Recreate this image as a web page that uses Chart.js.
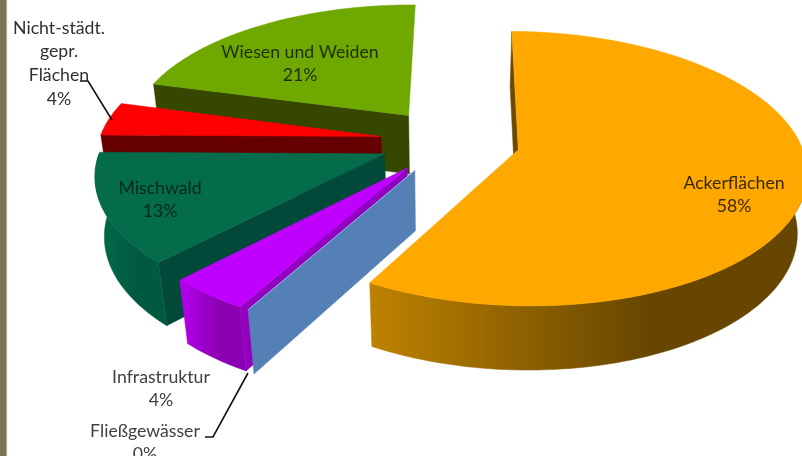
<!DOCTYPE html>
<html>
<head>
<meta charset="utf-8">
<style>
  html, body { margin: 0; padding: 0; }
  body { width: 802px; height: 456px; overflow: hidden; background: linear-gradient(to right, #7a7250 6px, #e8e6dc 7px, #fff 8px); }
  canvas { display: block; }
</style>
<script src="https://cdn.jsdelivr.net/npm/chart.js@4"></script>
</head>
<body>
<canvas id="chart" width="802" height="456"></canvas>
<script>
const categories = ["Ackerflächen", "Fließgewässer", "Infrastruktur", "Mischwald", ["Nicht-städt.", "gepr.", "Flächen"], "Wiesen und Weiden"];
const shares = [58, 0, 4, 13, 4, 21];
const faceColors = ["#ffa800", "#5580b5", "#c000ff", "#046b4b", "#ff0000", "#6fa800"];
const sideColors = ["#6b4a00", "#5580b5", "#9400c0", "#02493a", "#660000", "#364800"];
const rimColors = [["#be8200", "#664600"], ["#5580b5", "#5580b5"], ["#b400ee", "#8c00b4"], ["#046b4b", "#005a40"], ["#660000", "#660000"], ["#364800", "#364800"]];

// camera for the tilted pie: plane squash, foreshortening and extrusion
const tilt = 0.469, foreshorten = 0.000486, sink = 0.027, drop = 61, vanishX = 440;
// back to front
const paintOrder = [5, 4, 3, 2, 1, 0];

function project(el, angle, radius, z) {
  const mid = (el.startAngle + el.endAngle) / 2;
  const e = el.options.offset;
  const u = Math.cos(mid) * e + Math.cos(angle) * radius;
  const v = Math.sin(mid) * e + Math.sin(angle) * radius;
  const q = 1 - foreshorten * v + sink * z;
  return {
    x: vanishX + (u + el.x - vanishX) / q,
    y: el.y + (tilt * v + drop * z) / q,
  };
}

function arcAngles(el) {
  const list = [];
  const steps = Math.max(1, Math.ceil((el.endAngle - el.startAngle) * 60));
  for (let i = 0; i <= steps; i++) {
    list.push(el.startAngle + (el.endAngle - el.startAngle) * (i / steps));
  }
  return list;
}

function fillPoly(ctx, pts, fill) {
  ctx.beginPath();
  pts.forEach((p, i) => (i ? ctx.lineTo(p.x, p.y) : ctx.moveTo(p.x, p.y)));
  ctx.closePath();
  ctx.fillStyle = fill;
  ctx.fill();
  ctx.strokeStyle = fill;
  ctx.lineWidth = 0.5;
  ctx.stroke();
}

function drawSlice(ctx, el, i) {
  // only the leading wall ever faces the camera
  const a = el.startAngle, r = el.outerRadius;
  fillPoly(ctx, [project(el, a, 0, 0), project(el, a, r, 0), project(el, a, r, 1), project(el, a, 0, 1)], sideColors[i]);
  if (el.endAngle === a) {
    // a 0 % slice is only its wall, with a lit top edge
    const from = project(el, a, 0, 0), to = project(el, a, r, 0);
    ctx.beginPath();
    ctx.moveTo(from.x, from.y);
    ctx.lineTo(to.x, to.y);
    ctx.strokeStyle = "#8fb8ee";
    ctx.lineWidth = 1;
    ctx.stroke();
    return;
  }
  const angles = arcAngles(el);
  const front = angles.filter((t) => Math.sin(t) >= 0);
  if (front.length > 1) {
    // outer wall, front half of the rim only
    const top = front.map((t) => project(el, t, r, 0));
    const bottom = front.map((t) => project(el, t, r, 1)).reverse();
    const xs = top.map((p) => p.x);
    const minX = Math.min(...xs);
    const grad = ctx.createLinearGradient(minX, 0, minX + (Math.max(...xs) - minX) * 0.64, 0);
    grad.addColorStop(0, rimColors[i][0]);
    grad.addColorStop(1, rimColors[i][1]);
    fillPoly(ctx, top.concat(bottom), grad);
  }
  fillPoly(ctx, [project(el, a, 0, 0)].concat(angles.map((t) => project(el, t, r, 0))), faceColors[i]);
}

const pie3d = {
  id: "pie3d",
  // the arcs are painted here in perspective instead of flat
  beforeDatasetsDraw(chart, args, opts) {
    const ctx = chart.ctx;
    const arcs = chart.getDatasetMeta(0).data;
    ctx.save();
    paintOrder.forEach((i) => drawSlice(ctx, arcs[i], i));
    ctx.restore();
    return false;
  },
  afterDraw(chart, args, opts) {
    const ctx = chart.ctx;
    ctx.save();
    ctx.strokeStyle = "#111";
    ctx.lineWidth = 1.6;
    opts.leaders.forEach((line) => {
      ctx.beginPath();
      line.forEach((p, i) => (i ? ctx.lineTo(p[0], p[1]) : ctx.moveTo(p[0], p[1])));
      ctx.stroke();
    });
    ctx.font = opts.font;
    ctx.textAlign = "center";
    ctx.textBaseline = "middle";
    categories.forEach((name, i) => {
      const lines = [].concat(name, shares[i] + "%");
      const at = opts.labelAt[i];
      ctx.fillStyle = at.color;
      lines.forEach((text, n) => ctx.fillText(text, at.x, at.y + n * opts.lineHeight));
    });
    ctx.restore();
  },
};

new Chart(document.getElementById("chart"), {
  type: "pie",
  plugins: [pie3d],
  data: {
    labels: categories,
    datasets: [{ data: shares, backgroundColor: faceColors, borderWidth: 0, offset: 70, radius: 282, rotation: 0.7, clip: false }],
  },
  options: {
    responsive: false,
    animation: false,
    events: [],
    // puts the pie centre at (450, 141)
    layout: { padding: { left: 98, right: 0, top: 0, bottom: 174 } },
    plugins: {
      legend: { display: false },
      tooltip: { enabled: false },
      pie3d: {
        font: '17.7px Lato, "Open Sans", sans-serif',
        lineHeight: 23.7,
        labelAt: [
          { x: 734, y: 183, color: "#3a2800" },
          { x: 145, y: 431, color: "#404040" },
          { x: 161, y: 377, color: "#404040" },
          { x: 160, y: 188, color: "#02281c" },
          { x: 59, y: 28, color: "#303030" },
          { x: 300, y: 52, color: "#1f2e00" },
        ],
        leaders: [
          [[80, 81], [88, 81], [112, 120]],
          [[205, 437], [213, 437], [248, 373]],
        ],
      },
    },
  },
});
</script>
</body>
</html>
